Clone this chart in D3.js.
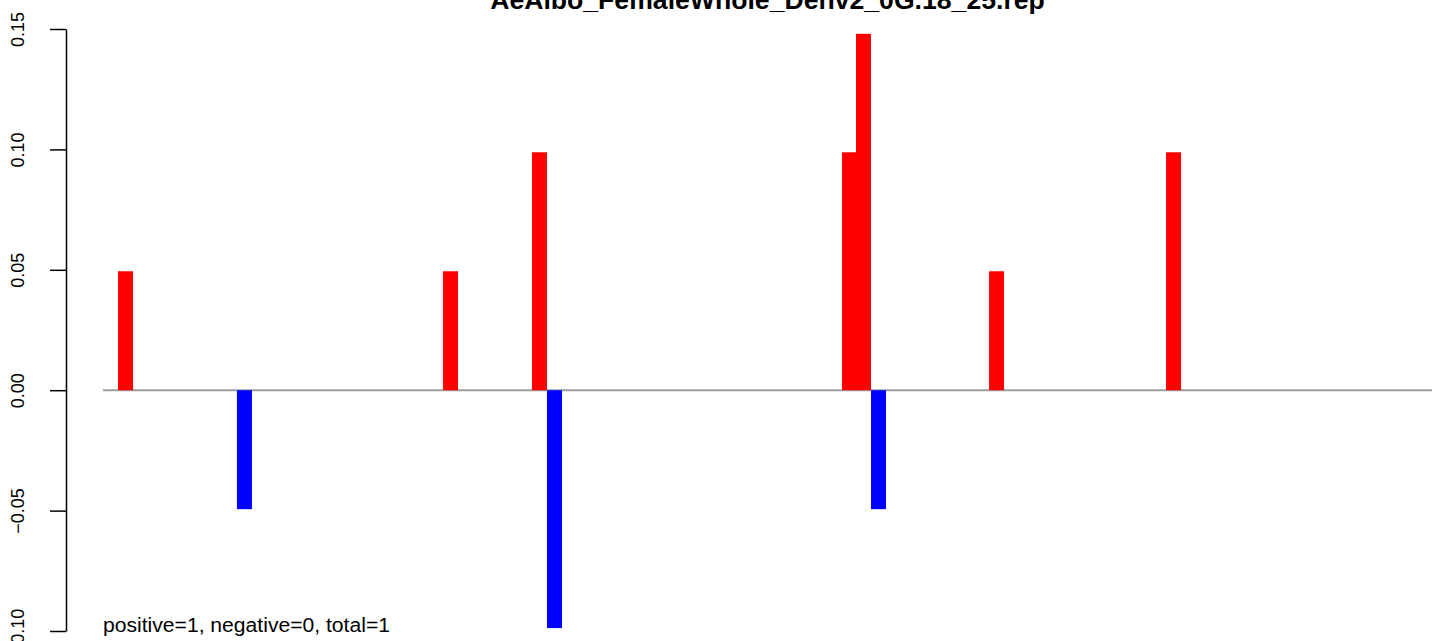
<!DOCTYPE html>
<html>
<head>
<meta charset="utf-8">
<script src="https://cdn.jsdelivr.net/npm/d3@7"></script>
<style>
  html, body { margin: 0; padding: 0; background: #fff; overflow: hidden; }
  svg { display: block; font-family: "Liberation Sans", Arial, Helvetica, sans-serif; }
</style>
</head>
<body>
<svg id="chart" width="1444" height="641"></svg>
<script>
// ---- data ----
const chartTitle = "AeAlbo_FemaleWhole_Denv2_0G.18_25.rep";
const footnote = "positive=1, negative=0, total=1";
const positivePositions = [1.0, 22.67, 28.6, 49.27, 50.2, 59.07, 70.87];
const positiveValues    = [0.0494, 0.0494, 0.0988, 0.0988, 0.148, 0.0494, 0.0988];
const negativePositions = [8.93, 29.6, 51.2];
const negativeValues    = [-0.0494, -0.0988, -0.0494];
const yTickValues = [-0.10, -0.05, 0.00, 0.05, 0.10, 0.15];
const positionRange = [0, 88.6];
const valueRange = [-0.10, 0.15];

// ---- layout ----
const svg = d3.select("#chart");
const x = d3.scaleLinear().domain(positionRange).range([103, 1432]);
const y = d3.scaleLinear().domain(valueRange).range([631, 29]);
const barW = x(1) - x(0);
const axisX = 66;

// zero line
svg.append("line")
  .attr("x1", x(positionRange[0])).attr("x2", x(positionRange[1]))
  .attr("y1", y(0)).attr("y2", y(0))
  .attr("stroke", "#9e9e9e").attr("stroke-width", 2);

const bars = [];
positivePositions.forEach((p, i) => bars.push({p, v: positiveValues[i], c: "#ff0000"}));
negativePositions.forEach((p, i) => bars.push({p, v: negativeValues[i], c: "#0000ff"}));
bars.sort((a, b) => a.p - b.p);

svg.append("g").selectAll("rect").data(bars).join("rect")
  .attr("x", d => x(d.p))
  .attr("width", barW)
  .attr("y", d => y(Math.max(0, d.v)))
  .attr("height", d => Math.abs(y(d.v) - y(0)))
  .attr("fill", d => d.c);

// y axis
const yAxis = d3.axisLeft(y).tickValues(yTickValues).tickFormat(d3.format(".2f")).tickSizeOuter(0).tickSizeInner(16);
const gy = svg.append("g").attr("transform", `translate(${axisX},0)`).call(yAxis);
gy.select(".domain").attr("stroke", "#000").attr("stroke-width", 1.5);
gy.selectAll(".tick line").attr("stroke", "#000").attr("stroke-width", 1.5);
gy.selectAll(".tick text")
  .attr("x", null).attr("dy", null).attr("y", 0)
  .attr("transform", `translate(${24 - axisX},0) rotate(-90)`)
  .attr("text-anchor", "middle")
  .attr("fill", "#000")
  .attr("font-size", 18)
  .attr("font-family", "Liberation Sans, Arial, sans-serif");

// title (fit to measured width)
const title = svg.append("text")
  .attr("x", 767.5).attr("y", 9)
  .attr("text-anchor", "middle")
  .attr("font-weight", "bold")
  .attr("font-size", 20)
  .text(chartTitle);
const tw = title.node().getComputedTextLength();
title.attr("font-size", 20 * 555 / tw);

// footnote
const foot = svg.append("text")
  .attr("x", 103).attr("y", 632)
  .attr("font-size", 18)
  .text(footnote);
const fw = foot.node().getComputedTextLength();
foot.attr("font-size", 18 * 287 / fw);
</script>
</body>
</html>
